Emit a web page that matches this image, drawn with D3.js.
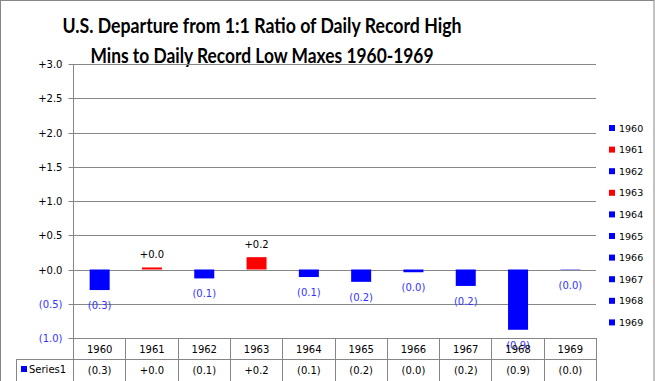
<!DOCTYPE html>
<html><head><meta charset="utf-8">
<script src="https://cdn.jsdelivr.net/npm/d3@7"></script>
<style>body{margin:0;background:#fff}svg{display:block}</style>
</head><body>
<script>
const years = ["1960","1961","1962","1963","1964","1965","1966","1967","1968","1969"];
const values = [-0.30, 0.03, -0.13, 0.18, -0.11, -0.18, -0.04, -0.24, -0.88, -0.005];
const yTicks = [-1.0, -0.5, 0, 0.5, 1.0, 1.5, 2.0, 2.5, 3.0];
const titleLines = ["U.S. Departure from 1:1 Ratio of Daily Record High", "Mins to Daily Record Low Maxes 1960-1969"];
const seriesName = "Series1";

const W = 655, H = 381;
const gray = "#868686", blue = "#0000FF", red = "#FF0000", labBlue = "#3333FF";
const fmt = v => v < 0 ? "(" + Math.abs(v).toFixed(1) + ")" : "+" + v.toFixed(1);
const colorOf = v => v < 0 ? blue : red;

const svg = d3.select("body").append("svg").attr("width", W).attr("height", H);
svg.append("rect").attr("x",0.5).attr("y",0.5).attr("width",W-1.5).attr("height",H+5)
  .attr("fill","#fff").attr("stroke",gray);

const pLeft = 73, pRight = 596, pTop = 64, pBottom = 338;
const x = d3.scaleBand().domain(years).range([pLeft, pRight]).paddingInner(0).paddingOuter(0);
const y = d3.scaleLinear().domain([-1, 3]).range([pBottom, pTop]);

// title
svg.append("g").selectAll("text").data(titleLines).join("text")
  .attr("x", 262).attr("y", (d,i) => 33 + i*30)
  .attr("text-anchor","middle")
  .attr("font-family","Lato, 'Open Sans', sans-serif").attr("font-weight","bold")
  .attr("font-size",21).attr("fill","#000")
  .attr("textLength",(d,i)=> i===0 ? 399 : 343).attr("lengthAdjust","spacingAndGlyphs")
  .text(d => d);

// gridlines
svg.append("g").selectAll("line").data(yTicks).join("line")
  .attr("x1", pLeft).attr("x2", pRight)
  .attr("y1", d => Math.round(y(d))+0.5).attr("y2", d => Math.round(y(d))+0.5)
  .attr("stroke", gray).attr("stroke-width",1);

// left axis
const ax = svg.append("g").attr("transform",`translate(${pLeft+0.5},0.5)`)
  .call(d3.axisLeft(y).tickValues(yTicks).tickSizeInner(5).tickSizeOuter(0).tickPadding(6).tickFormat(fmt));
ax.select(".domain").remove();
ax.selectAll(".tick line").attr("stroke",gray);
ax.selectAll(".tick").attr("transform", d => `translate(0,${Math.round(y(d))})`);
ax.selectAll(".tick text").attr("font-family","'DejaVu Sans', Verdana, sans-serif").attr("font-size",10)
  .attr("fill", d => d < 0 ? labBlue : "#000").attr("dy","0.35em");
svg.append("line").attr("x1",pLeft+0.5).attr("x2",pLeft+0.5).attr("y1",pTop).attr("y2",H)
  .attr("stroke",gray);

// bars
const bw = 20;
svg.append("g").selectAll("rect").data(values).join("rect")
  .attr("x", (d,i) => x(years[i]) + x.bandwidth()/2 - bw/2 + 0.5)
  .attr("y", d => y(Math.max(0,d)))
  .attr("width", bw)
  .attr("height", d => Math.abs(y(d) - y(0)))
  .attr("fill", colorOf);

// data labels
svg.append("g").selectAll("text").data(values).join("text")
  .attr("x", (d,i) => x(years[i]) + x.bandwidth()/2 + 0.5)
  .attr("y", d => d < 0 ? y(d) + 19 : y(d) - 9)
  .attr("text-anchor","middle")
  .attr("font-family","'DejaVu Sans', Verdana, sans-serif").attr("font-size",10)
  .attr("fill", d => d < 0 ? labBlue : "#000")
  .text(fmt);

// data table
const tRow1 = 338, tRow2 = 359;
const tbl = svg.append("g").attr("stroke",gray).attr("stroke-width",1);
tbl.append("line").attr("x1",16).attr("x2",pRight).attr("y1",tRow2+0.5).attr("y2",tRow2+0.5);
tbl.selectAll(".v").data(years.concat(["end"])).join("line").attr("class","v")
  .attr("x1",(d,i)=> Math.round(pLeft + i*x.bandwidth())+0.5)
  .attr("x2",(d,i)=> Math.round(pLeft + i*x.bandwidth())+0.5)
  .attr("y1",tRow1).attr("y2",H);
tbl.append("line").attr("x1",16.5).attr("x2",16.5).attr("y1",tRow2).attr("y2",H);

svg.append("g").selectAll("text").data(years).join("text")
  .attr("x", d => x(d) + x.bandwidth()/2 + 0.5).attr("y", 353)
  .attr("text-anchor","middle")
  .attr("font-family","'DejaVu Sans', Verdana, sans-serif").attr("font-size",10).attr("fill","#000")
  .text(d => d);
svg.append("g").selectAll("text").data(values).join("text")
  .attr("x", (d,i) => x(years[i]) + x.bandwidth()/2 + 0.5).attr("y", 374)
  .attr("text-anchor","middle")
  .attr("font-family","'DejaVu Sans', Verdana, sans-serif").attr("font-size",10).attr("fill","#000")
  .text(fmt);
svg.append("rect").attr("x",21).attr("y",366).attr("width",6).attr("height",6).attr("fill",blue);
svg.append("text").attr("x",29).attr("y",373)
  .attr("font-family","'DejaVu Sans', Verdana, sans-serif").attr("font-size",10).attr("fill","#000")
  .text(seriesName);

// legend
const lg = svg.append("g").selectAll("g").data(years).join("g")
  .attr("transform",(d,i)=>`translate(609,${125 + i*21.6})`);
lg.append("rect").attr("width",6).attr("height",6).attr("fill",(d,i)=>colorOf(values[i]));
lg.append("text").attr("x",10).attr("y",6.5)
  .attr("font-family","'DejaVu Sans', Verdana, sans-serif").attr("font-size",9.5).attr("fill","#000")
  .text(d=>d);
</script>
</body></html>
